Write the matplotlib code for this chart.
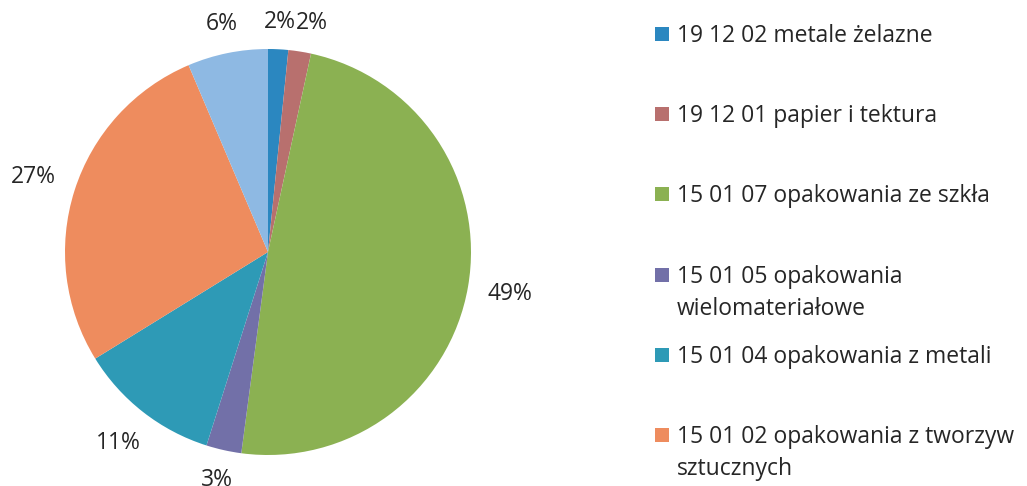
import numpy as np
import matplotlib
matplotlib.use("Agg")
import matplotlib.pyplot as plt
from matplotlib.patches import Rectangle

# udzialy odpadow (%)
categories = [
    "19 12 02 metale żelazne",
    "19 12 01 papier i tektura",
    "15 01 07 opakowania ze szkła",
    "15 01 05 opakowania\nwielomateriałowe",
    "15 01 04 opakowania z metali",
    "15 01 02 opakowania z tworzyw\nsztucznych",
    "15 01 01 opakowania z papieru\ni tektury",
]
shares = [1.6, 1.8, 48.7, 2.8, 11.3, 27.4, 6.4]
colors = ["#2B87C0", "#B8706E", "#8BB152", "#7270A8", "#2E9AB6", "#EE8C5E", "#8EB9E3"]

plt.rcParams['font.family'] = ['Open Sans', 'DejaVu Sans']

W, H = 1027, 486
fig = plt.figure(figsize=(W / 100, H / 100), dpi=100)

# pie: radius 203 px, centre at (268, 252) px from top-left
R = 203
lim = 1.3
side = 2 * lim * R
ax = fig.add_axes([(268 - side / 2) / W, (H - 252 - side / 2) / H, side / W, side / H])
wedges, _ = ax.pie(shares, colors=colors, startangle=90, counterclock=False,
                   wedgeprops=dict(linewidth=0))
ax.set_xlim(-lim, lim)
ax.set_ylim(-lim, lim)
ax.set_aspect('equal')
ax.axis('off')

# labels just outside the edge, box nearest side facing the pie
total = sum(shares)
gap = 18 / R
hh = 9 / R
texts = []
for w, v in zip(wedges, shares):
    lab = "%.0f%%" % (100 * v / total)
    phi = np.deg2rad((w.theta1 + w.theta2) / 2)
    hw = 7.8 * len(lab) / R
    r = 1 + gap + hw * abs(np.cos(phi)) + hh * abs(np.sin(phi))
    t = ax.text(r * np.cos(phi), r * np.sin(phi), lab, ha='center', va='center',
                fontsize=16.5, color='#262626')
    texts.append(t)

# push neighbouring labels apart (like Excel does for the two small slices)
fig.canvas.draw()
renderer = fig.canvas.get_renderer()
for a, b in zip(texts[:-1], texts[1:]):
    ea = a.get_window_extent(renderer)
    eb = b.get_window_extent(renderer)
    if ea.overlaps(eb) and eb.x0 > ea.x0:
        x, y = b.get_position()
        b.set_x(x + (ea.x1 - eb.x0) / R)

# legend (Excel-like, evenly spaced slots; last entry falls off the page)
for i, (cat, col) in enumerate(zip(categories, colors)):
    base = 42 + 80.2 * i
    if base > H:
        break
    fig.add_artist(Rectangle((655 / W, 1 - (base - 1) / H), 14 / W, 14 / H,
                             transform=fig.transFigure, facecolor=col, edgecolor='none'))
    for j, line in enumerate(cat.split("\n")):
        fig.text(677 / W, 1 - (base + 32 * j) / H, line, ha='left', va='baseline',
                 fontsize=16.5, color='#262626')

fig.savefig("out.png", dpi=100)
